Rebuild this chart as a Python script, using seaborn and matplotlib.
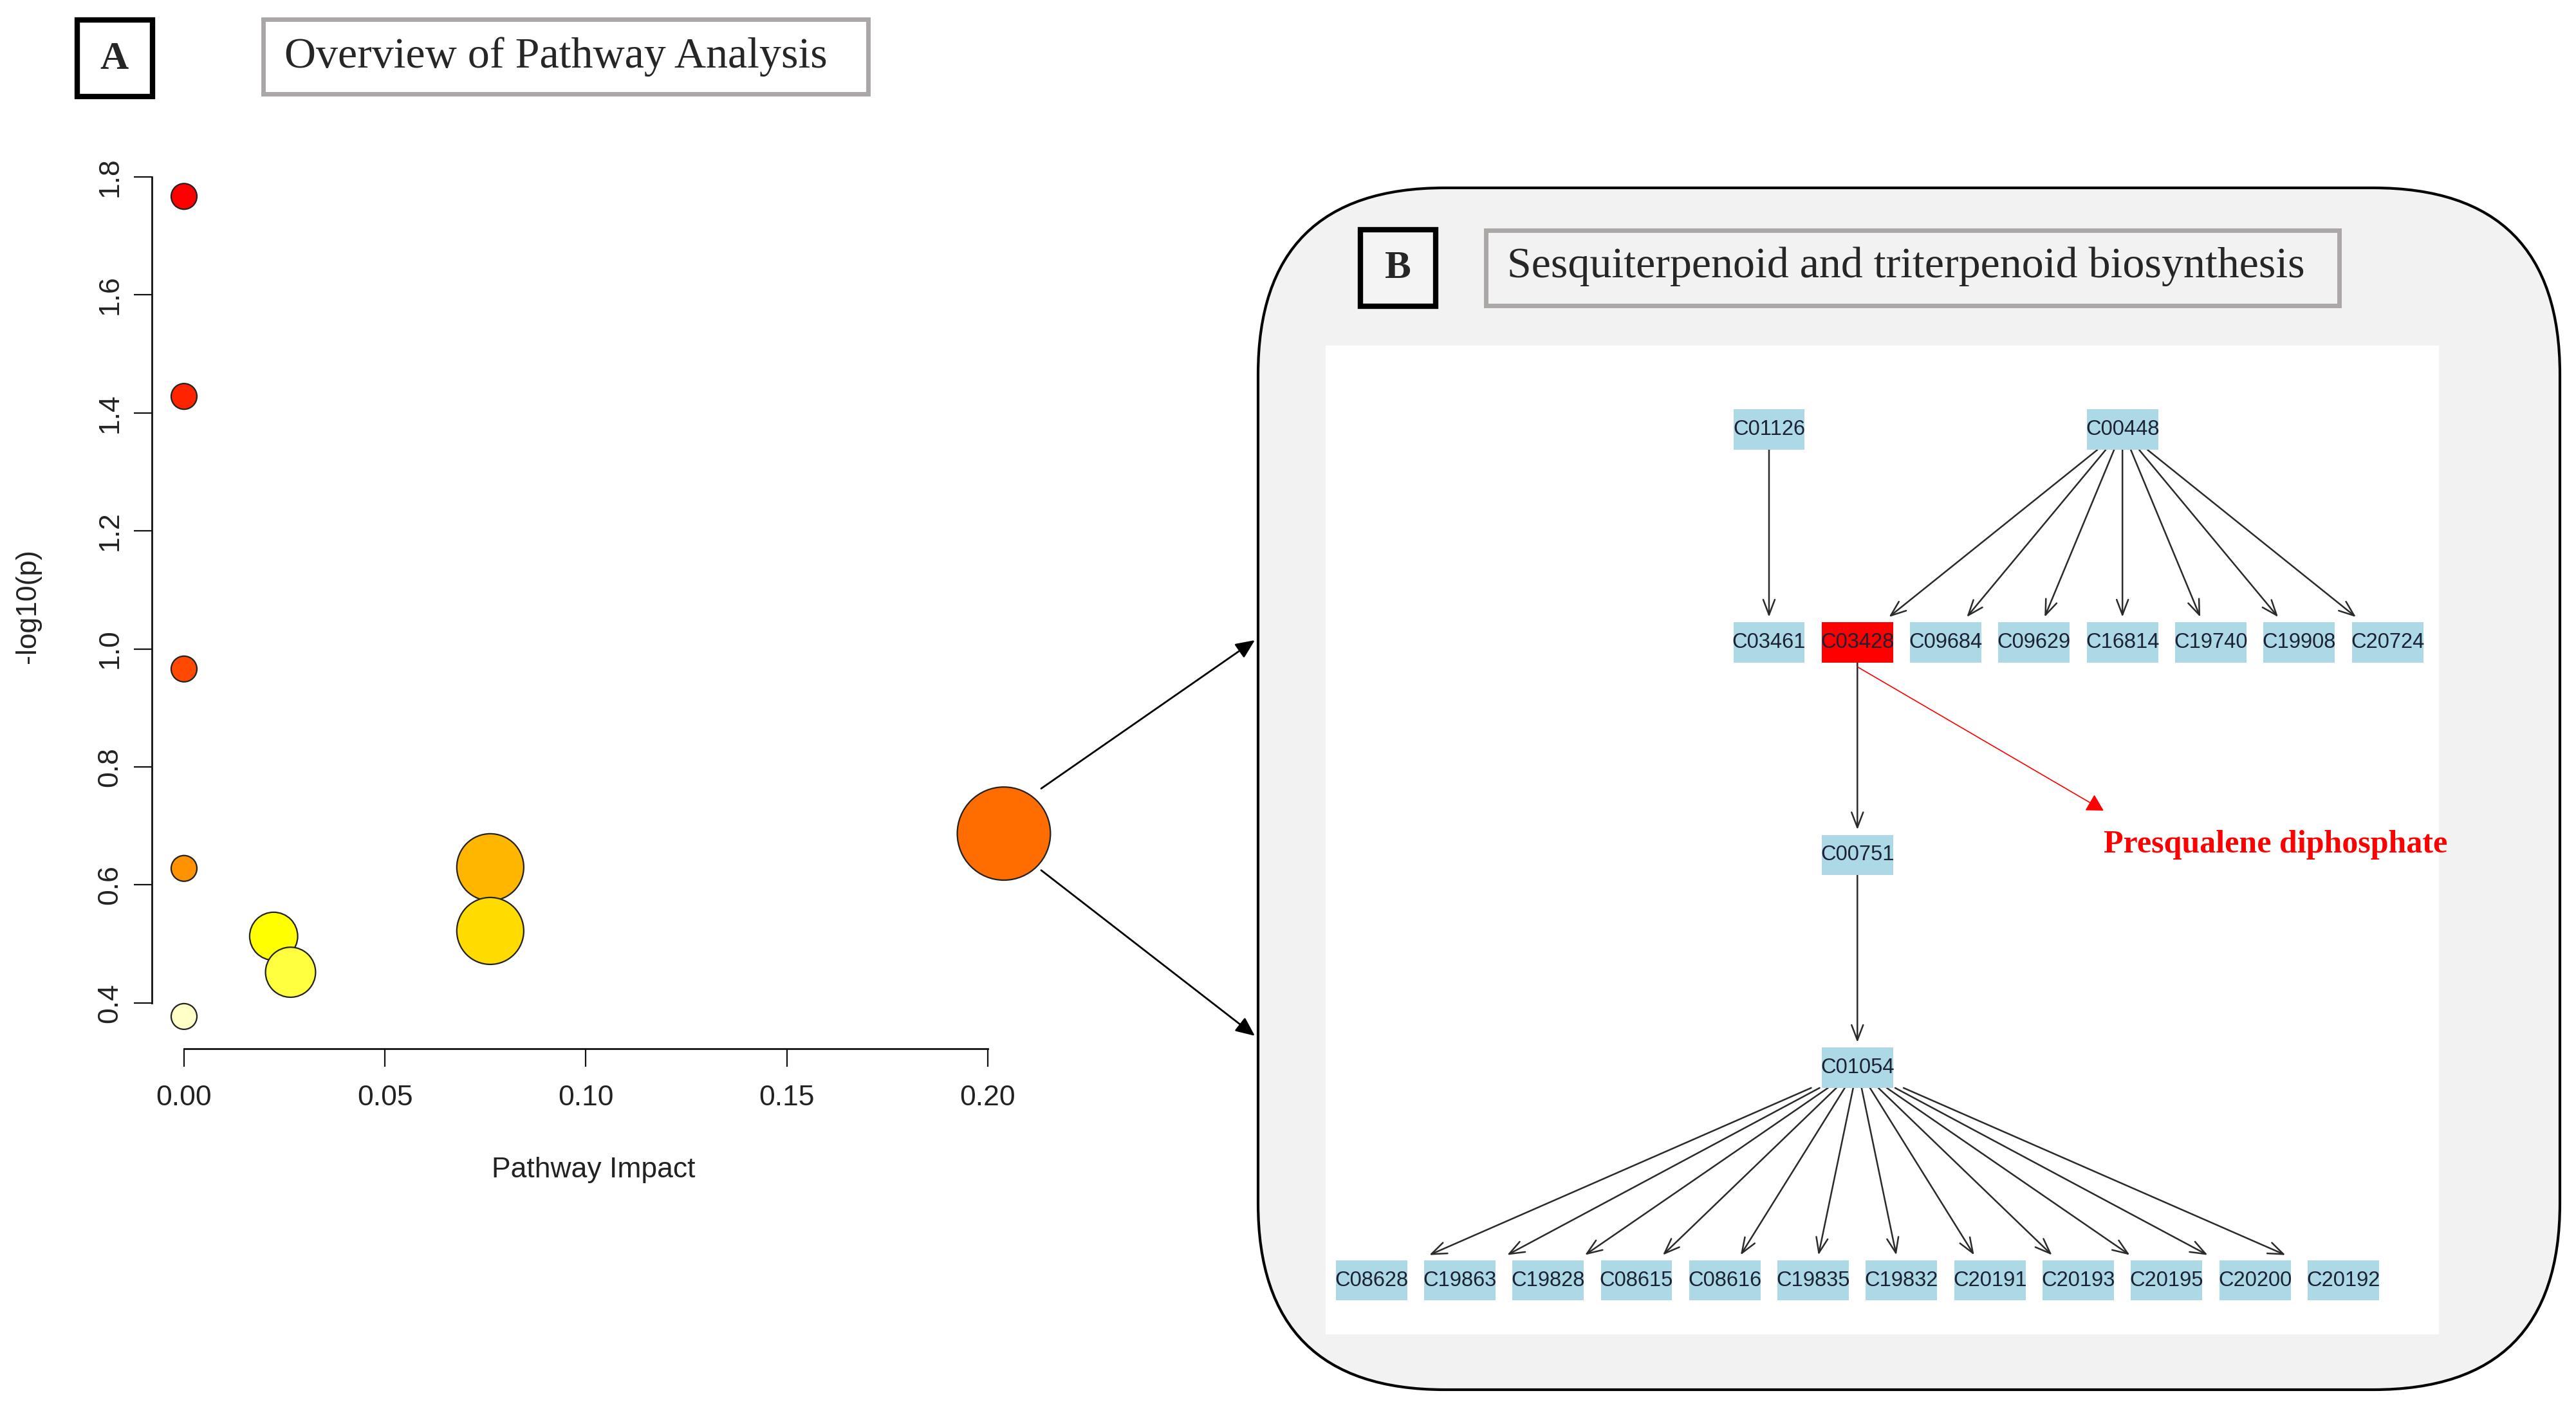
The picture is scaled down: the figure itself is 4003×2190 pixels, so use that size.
import numpy as np
import pandas as pd
import seaborn as sns
import matplotlib.pyplot as plt
from matplotlib.patches import Rectangle, FancyBboxPatch, FancyArrowPatch

# ---- panel A: pathway overview ----
impact = [0.0, 0.0, 0.0, 0.0, 0.0, 0.0223, 0.0265, 0.0762, 0.0762, 0.204]
neg_log_p = [1.767, 1.428, 0.966, 0.628, 0.377, 0.513, 0.452, 0.630, 0.522, 0.687]
point_colors = ["#FF0000", "#FF2400", "#FF4900", "#FF9200", "#FFFFC8",
                "#FFFF00", "#FFFF40", "#FFB600", "#FFDB00", "#FF6D00"]
x_ticks = [0.00, 0.05, 0.10, 0.15, 0.20]
y_ticks = [0.4, 0.6, 0.8, 1.0, 1.2, 1.4, 1.6, 1.8]

# ---- panel B: sesquiterpenoid / triterpenoid compound tree ----
top_row = ["C01126", "C00448"]
mid_row = ["C03461", "C03428", "C09684", "C09629", "C16814", "C19740", "C19908", "C20724"]
chain = ["C00751", "C01054"]
bottom_row = ["C08628", "C19863", "C19828", "C08615", "C08616", "C19835",
              "C19832", "C20191", "C20193", "C20195", "C20200", "C20192"]
edges = ([("C01126", "C03461")] + [("C00448", c) for c in mid_row[1:]]
         + [("C03428", "C00751"), ("C00751", "C01054")]
         + [("C01054", c) for c in bottom_row])
highlight = "C03428"
highlight_name = "Presqualene diphosphate"

W, H = 4003, 2190
sns.set_theme(style="ticks")
plt.rcParams["font.family"] = ["Liberation Sans", "DejaVu Sans"]
SERIF = "Liberation Serif"
NARROW = ["Liberation Sans Narrow", "Liberation Sans"]

fig = plt.figure(figsize=(W / 100, H / 100), dpi=100)
fig.patch.set_facecolor("white")

def fr(x0, y0, x1, y1):
    # pixel box (top-left origin) -> figure fraction rect
    return [x0 / W, (H - y1) / H, (x1 - x0) / W, (y1 - y0) / H]

# overlay in pixel units for frames, titles and connectors
ov = fig.add_axes([0, 0, 1, 1], zorder=0)
ov.set_xlim(0, W)
ov.set_ylim(H, 0)
ov.axis("off")

# ---- scatter ----
ax = fig.add_axes(fr(236, 250, 1580, 1630), zorder=2)
ax.set_facecolor("none")
df = pd.DataFrame({"impact": impact, "nlp": neg_log_p})
df["pathway"] = [f"P{i:02d}" for i in range(len(df))]
# bubble diameter grows with sqrt(impact)
df["area"] = ((40 + 232 * np.sqrt(df["impact"])) / 1.389) ** 2
sns.scatterplot(data=df, x="impact", y="nlp", hue="pathway", palette=point_colors,
                size="area", sizes=(df["area"].min(), df["area"].max()),
                edgecolor="#222222", linewidth=1.6, alpha=1, legend=False, ax=ax,
                zorder=3, clip_on=False)
ax.set_xlim(-0.008006, 0.20721)
ax.set_ylim(0.32236, 1.82726)
sns.despine(ax=ax)
ax.spines["left"].set_bounds(0.4, 1.8)
ax.spines["bottom"].set_bounds(0.0, 0.2)
for s in ("left", "bottom"):
    ax.spines[s].set_linewidth(2)
    ax.spines[s].set_color("#111111")
ax.set_xticks(x_ticks)
ax.set_xticklabels([f"{v:.2f}" for v in x_ticks])
ax.set_yticks(y_ticks)
ax.set_yticklabels([f"{v:.1f}" for v in y_ticks], rotation=90, va="center")
ax.tick_params(axis="both", direction="out", length=20, width=1.6, color="#111111",
               labelsize=32, labelcolor="#222222")
ax.tick_params(axis="y", pad=12)
ax.tick_params(axis="x", pad=20)
ax.set_xlabel("Pathway Impact", fontsize=32, color="#222222")
ax.set_ylabel("-log10(p)", fontsize=32, color="#222222")
ax.xaxis.set_label_coords(0.5104, -0.122)
ax.yaxis.set_label_coords(-0.128, 0.4986)

# ---- panel frames ----
ov.add_patch(Rectangle((120, 31), 117, 119, fc="white", ec="black", lw=6))
ov.text(178, 92, "A", family=SERIF, fontsize=44, fontweight="bold", ha="center", va="center")
ov.add_patch(Rectangle((409, 30), 940, 116, fc="white", ec="#ABA7A6", lw=5))
ov.text(442, 88, "Overview of Pathway Analysis", family=SERIF, fontsize=49,
        ha="left", va="center")

ov.add_patch(FancyBboxPatch((1955, 292), 2023, 1868,
                            boxstyle="round,pad=0,rounding_size=290",
                            fc="#F2F2F2", ec="black", lw=3))
ov.add_patch(Rectangle((2114, 357), 117, 119, fc="#F4F4F4", ec="black", lw=6))
ov.text(2172, 417, "B", family=SERIF, fontsize=44, fontweight="bold", ha="center", va="center")
ov.add_patch(Rectangle((2309, 358), 1326, 117, fc="#F2F2F2", ec="#ABA7A6", lw=5))
ov.text(2342, 414, "Sesquiterpenoid and triterpenoid biosynthesis", family=SERIF,
        fontsize=49, ha="left", va="center")

# connectors from the highlighted bubble to panel B
big = df["impact"].idxmax()
cx, cy = ax.transData.transform((df.loc[big, "impact"], df.loc[big, "nlp"]))
cy = H - cy
for (dx, dy), end_y in [((58, -70), 995), ((58, 57), 1610)]:
    ov.add_patch(FancyArrowPatch((cx + dx, cy + dy), (1950, end_y),
                                 arrowstyle="-|>,head_length=18,head_width=8",
                                 mutation_scale=1, color="black", lw=2, shrinkA=0, shrinkB=0))

# ---- network ----
axn = fig.add_axes(fr(2060, 537, 3790, 2074), zorder=1)
axn.set_facecolor("white")
axn.set_xlim(-5.018, 7.582)
axn.set_ylim(4.254, -0.396)
axn.set_xticks([])
axn.set_yticks([])
for s in axn.spines.values():
    s.set_visible(False)

# tidy tree layout: children side by side, parents centred over them
pos = {}
for i, c in enumerate(mid_row):
    pos[c] = (float(i), 1.0)
for parent in top_row:
    kids = [t for s, t in edges if s == parent]
    pos[parent] = (float(np.mean([pos[k][0] for k in kids])), 0.0)
x_chain = pos[highlight][0]
for j, c in enumerate(chain):
    pos[c] = (x_chain, 2.0 + j)
n_b = len(bottom_row)
for i, c in enumerate(bottom_row):
    pos[c] = (x_chain + i - (n_b - 1) / 2, 4.0)

node_w, node_h, gap = 0.808, 0.19, 0.024
for s, t in edges:
    sx, sy = pos[s]
    tx, ty = pos[t]
    t0 = (node_h / 2) / (ty - sy)
    t1 = (ty - node_h / 2 - gap - sy) / (ty - sy)
    p0 = (sx + t0 * (tx - sx), sy + t0 * (ty - sy))
    p1 = (sx + t1 * (tx - sx), sy + t1 * (ty - sy))
    axn.add_patch(FancyArrowPatch(p0, p1, arrowstyle="->,head_length=17,head_width=6.5",
                                  mutation_scale=1, color="#2a2a2a", lw=1.8,
                                  shrinkA=0, shrinkB=0, zorder=2))

for c, (x, y) in pos.items():
    fc = "#FF0000" if c == highlight else "#ADD8E6"
    axn.add_patch(Rectangle((x - node_w / 2, y - node_h / 2), node_w, node_h,
                            fc=fc, ec="none", zorder=3))
    axn.text(x, y, c, family=NARROW, fontsize=23.5, ha="center", va="center",
             color="#1b2233", zorder=4)

# annotation for the detected compound
hx, hy = pos[highlight]
tip = (hx + 2.787, hy + 0.791)
axn.add_patch(FancyArrowPatch((hx, hy + node_h / 2 + 0.02), tip,
                              arrowstyle="-|>,head_length=16,head_width=9",
                              mutation_scale=1, color="red", lw=1.2,
                              shrinkA=0, shrinkB=0, zorder=2))
axn.text(tip[0], tip[1] + 0.16, highlight_name, family=SERIF, fontsize=36,
         fontweight="bold", color="red", ha="left", va="center")

fig.savefig("out.png", dpi=100)
